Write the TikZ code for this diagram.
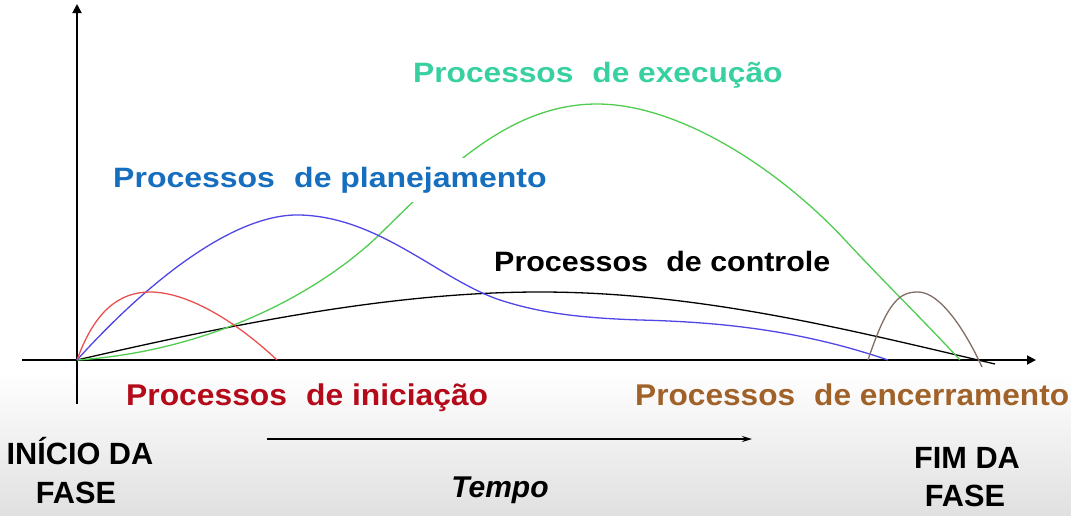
\documentclass[tikz,border=0pt]{standalone}
\usepackage{fontspec}
\setmainfont{Liberation Sans}
\usetikzlibrary{arrows.meta}
\definecolor{cexec}{RGB}{55,208,160}
\definecolor{cplan}{RGB}{22,110,190}
\definecolor{cinit}{RGB}{180,10,25}
\definecolor{cclose}{RGB}{160,98,40}
\definecolor{kred}{RGB}{235,80,80}
\definecolor{kblue}{RGB}{80,70,230}
\definecolor{kgreen}{RGB}{80,205,80}
\definecolor{kbrown}{RGB}{130,110,100}
\begin{document}
\begin{tikzpicture}[x=1pt,y=-1pt,
  lbl/.style={font=\fontsize{28}{32}\selectfont\bfseries, inner sep=0pt, anchor=base west, xscale=1.12},
  lblb/.style={font=\fontsize{30}{34}\selectfont\bfseries, inner sep=0pt, anchor=base west, xscale=1.06},
  phase/.style={font=\fontsize{30.7}{36}\selectfont\bfseries, inner sep=0pt, anchor=base},
  curve/.style={line width=1.3pt},
  axis/.style={line width=1.8pt, -{Triangle[length=9pt,width=9pt]}},
  timearrow/.style={line width=1.4pt, -{Stealth[length=10pt,width=6pt]}}]
\useasboundingbox (0,0) rectangle (1071,515);
\fill[white] (0,0) rectangle (1071,372);
\shade[top color=white, bottom color=black!12] (0,372) rectangle (1071,515);
% axes
\coordinate (ybot) at (77,404);
\coordinate (ytop) at (77,4);
\coordinate (xl) at (22,360);
\coordinate (xr) at (1036,360);
\draw[axis] (ybot) -- (ytop);
\draw[axis] (xl) -- (xr);
% curves
\coordinate (o) at (77,360);
\draw[curve, black] (o) .. controls (250,320) and (400,292) .. (540,292)
  .. controls (700,292) and (850,330) .. (995,364);
\draw[curve, kgreen] (o) .. controls (200,352) and (310,300) .. (377,237)
  .. controls (445,170) and (510,104) .. (597,104)
  .. controls (680,104) and (780,170) .. (845,240)
  .. controls (885,283) and (925,322) .. (960,360);
\draw[curve, kblue] (o) .. controls (140,290) and (230,213) .. (300,215)
  .. controls (380,217) and (440,280) .. (500,300)
  .. controls (540,313) and (580,318) .. (640,320)
  .. controls (720,322) and (800,330) .. (888,360);
\draw[curve, kred] (o) .. controls (95,310) and (120,292) .. (150,292)
  .. controls (190,292) and (240,325) .. (277,360);
\draw[curve, kbrown] (868,360) .. controls (888,300) and (900,292) .. (918,292)
  .. controls (940,292) and (965,330) .. (982,367);
% labels
\node[lbl, text=cexec, xscale=1.01] (exec) at (413,82) {Processos\hspace{0.6em}de execução};
\node[lbl, text=cplan, fill=white, inner ysep=9pt, xscale=1.02] (plan) at (113,187) {Processos\hspace{0.6em}de planejamento};
\node[lbl, text=black, xscale=0.97] (ctrl) at (494,271) {Processos\hspace{0.6em}de controle};
\node[lblb, text=cinit] (init) at (126,405) {Processos\hspace{0.6em}de iniciação};
\node[lblb, text=cclose, xscale=0.995] (close) at (635,405) {Processos\hspace{0.6em}de encerramento};
% time arrow
\coordinate (ts) at (267,439);
\coordinate (te) at (752,439);
\draw[timearrow] (ts) -- (te);
\node[font=\fontsize{30}{34}\selectfont\bfseries\itshape, inner sep=0pt, anchor=base] (tempo) at (500,497) {Tempo};
% phase labels
\node[phase] (ini1) at (80,464) {INÍCIO DA};
\node[phase] (ini2) at (76,503) {FASE};
\node[phase] (fim1) at (967,468) {FIM DA};
\node[phase] (fim2) at (965,506) {FASE};
\end{tikzpicture}
\end{document}
